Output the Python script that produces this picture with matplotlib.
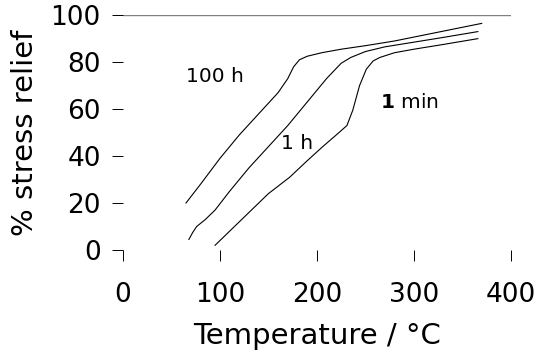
import matplotlib.pyplot as plt

# curves: temperature (C) vs % stress relief
temp_100h = [65, 80, 100, 120, 140, 160, 170, 176, 182, 190, 205, 225, 250, 280, 310, 340, 370]
relief_100h = [20, 28, 39, 49, 58, 67, 73, 78, 81, 82.5, 84, 85.5, 87, 89, 91.5, 94, 96.5]

temp_1h = [68, 72, 76, 85, 95, 110, 130, 150, 170, 190, 210, 225, 235, 250, 270, 300, 330, 366]
relief_1h = [4.5, 7.5, 10, 13, 17, 25, 35, 44, 53, 63, 73, 79.5, 82, 84.5, 86.5, 88.5, 90.5, 93]

temp_1min = [95, 110, 130, 150, 172, 190, 206, 220, 231, 237, 244, 251, 258, 265, 280, 300, 330, 366]
relief_1min = [2, 8, 16, 24, 31, 38, 44, 49, 53, 59.5, 70, 77, 80.5, 82, 84, 85.5, 87.5, 90]

x_ticks = [0, 100, 200, 300, 400]
y_ticks = [0, 20, 40, 60, 80, 100]

fig = plt.figure(figsize=(5.44, 3.61), dpi=100)
ax = fig.add_axes([0.226, 0.3075, 0.713, 0.6505])

# gridline at the top
ax.axhline(100, color='#808080', linewidth=1.0, zorder=1)

for t, r in [(temp_100h, relief_100h), (temp_1h, relief_1h), (temp_1min, relief_1min)]:
    ax.plot(t, r, color='black', linewidth=0.8, zorder=2)

ax.text(95, 74, '100 h', fontsize=14.5, ha='center', va='center')
ax.text(180, 45.5, '1 h', fontsize=14.5, ha='center', va='center')
ax.text(295, 63, r'$\mathbf{1}$ min', fontsize=14.5, ha='center', va='center')

ax.set_xlim(0, 400)
ax.set_ylim(0, 100)
ax.set_xticks(x_ticks)
ax.set_yticks(y_ticks)

for s in ax.spines.values():
    s.set_visible(False)

ax.tick_params(axis='both', labelsize=19, length=8, width=0.7, color='black')
ax.tick_params(axis='x', pad=15)
ax.tick_params(axis='y', pad=8)

ax.set_xlabel('Temperature / °C', fontsize=21, labelpad=10)
ax.set_ylabel('% stress relief', fontsize=21, labelpad=8)

fig.savefig('out.png', dpi=100)
